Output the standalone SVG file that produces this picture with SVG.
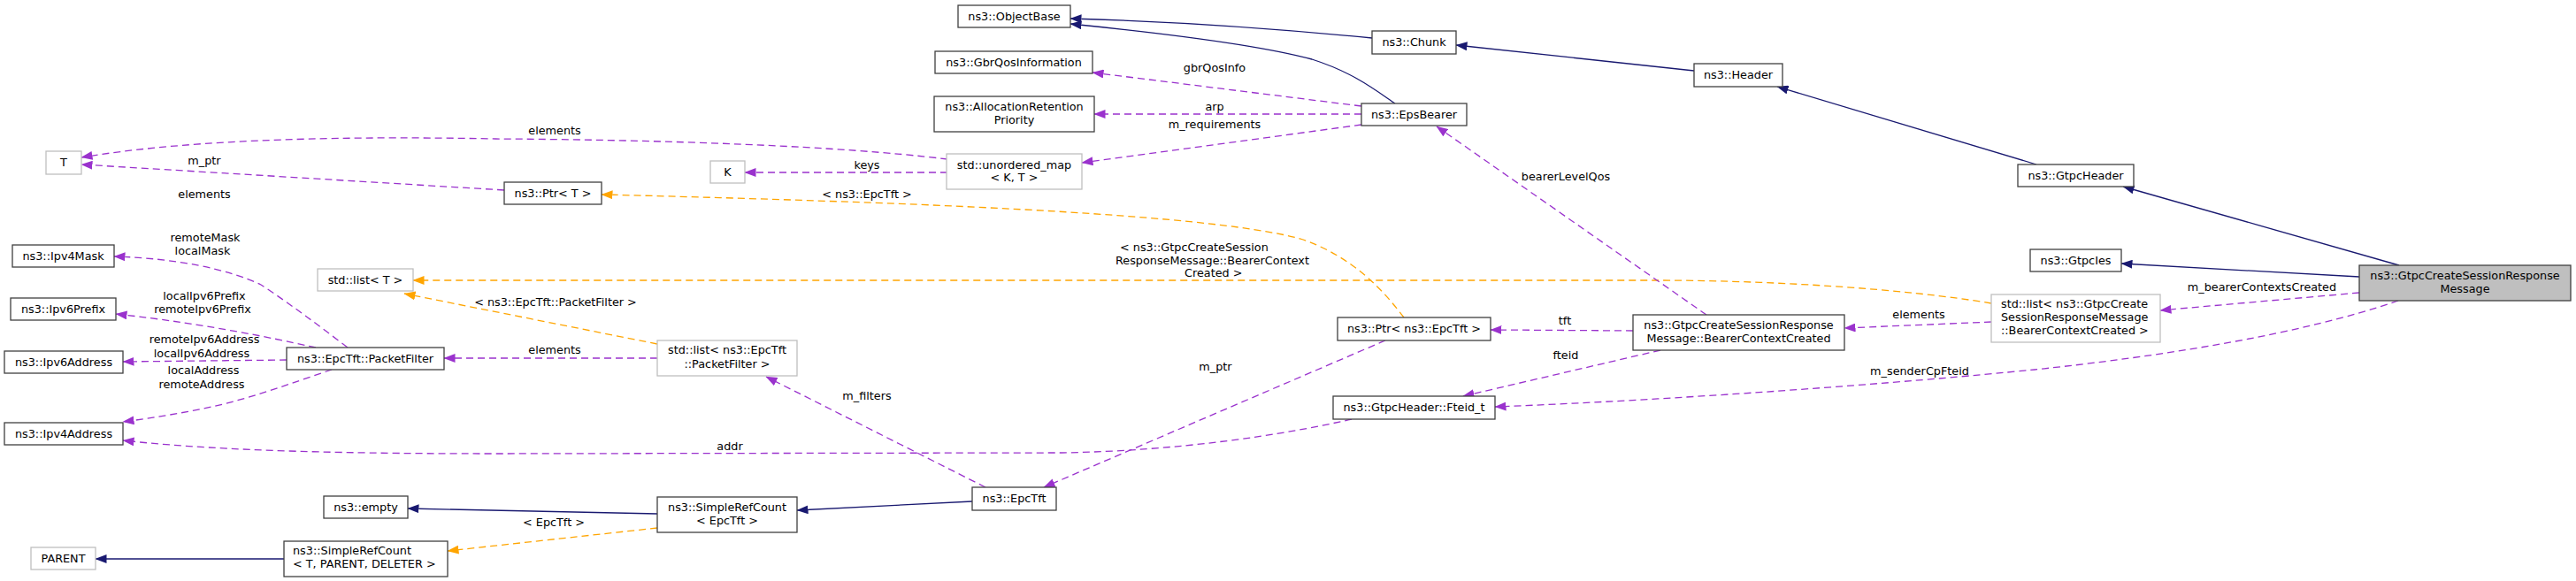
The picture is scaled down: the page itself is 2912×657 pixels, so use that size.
<svg xmlns="http://www.w3.org/2000/svg" width="2912" height="657" viewBox="0 0 2912 657">
<style>
text{font-family:"DejaVu Sans","Liberation Sans",sans-serif;font-size:12.8px;fill:#000}
.c{text-anchor:middle}
.l{text-anchor:start}
rect{stroke-width:1.3}
.n rect{fill:#fff;stroke:#404040}
.g rect{fill:#fff;stroke:#bfbfbf}
.m rect{fill:#bfbfbf;stroke:#404040}
.e path{fill:none;stroke-width:1.3}
.ih{stroke:#191970;marker-end:url(#ab)}
.us{stroke:#9a32cd;stroke-dasharray:8,5;marker-end:url(#ap)}
.tp{stroke:#ffa500;stroke-dasharray:8,5;marker-end:url(#ao)}
</style>
<defs>
<marker id="ab" viewBox="0 0 13 10" refX="12.5" refY="5" markerWidth="13" markerHeight="10" markerUnits="userSpaceOnUse" orient="auto"><path d="M0,0 L13,5 L0,10 z" fill="#191970"/></marker>
<marker id="ap" viewBox="0 0 13 10" refX="12.5" refY="5" markerWidth="13" markerHeight="10" markerUnits="userSpaceOnUse" orient="auto"><path d="M0,0 L13,5 L0,10 z" fill="#9a32cd"/></marker>
<marker id="ao" viewBox="0 0 13 10" refX="12.5" refY="5" markerWidth="13" markerHeight="10" markerUnits="userSpaceOnUse" orient="auto"><path d="M0,0 L13,5 L0,10 z" fill="#ffa500"/></marker>
</defs>
<rect width="2912" height="657" fill="#fff"/>
<g id="edges" class="e">
<path class="ih" d="M1551,43 C1450,33 1320,24 1210,21"/>
<path class="ih" d="M1577,117 C1555,102 1530,82 1483,67 C1420,50 1300,36 1210,27"/>
<path class="ih" d="M1915,80 L1646,51"/>
<path class="ih" d="M2302,186 L2009,98"/>
<path class="ih" d="M2712,300 L2400,211"/>
<path class="ih" d="M2667,313 L2398,298"/>
<path class="us" d="M2667,331 L2442,351"/>
<path class="us" d="M2711,340 C2600,378 2450,402 2300,418 C2150,433 1900,452 1690,460"/>
<path class="us" d="M2251,364 L2085,371"/>
<path class="tp" d="M2251,343 C2150,326 2000,317 1870,317 L467,317"/>
<path class="us" d="M1929,356 L1624,143"/>
<path class="us" d="M1846,374 L1685,373"/>
<path class="us" d="M1877,396 L1654,448"/>
<path class="tp" d="M1587,359 C1565,330 1530,290 1470,270 C1360,240 1000,228 680,220"/>
<path class="us" d="M1566,385 L1180,551"/>
<path class="us" d="M1114,551 L866,426"/>
<path class="ih" d="M1099,567 L901,577"/>
<path class="ih" d="M743,581 L461,575"/>
<path class="tp" d="M743,597 L506,623"/>
<path class="ih" d="M321,632 L108,632"/>
<path class="us" d="M1528,474 C1450,492 1330,510 1200,512 L560,513 C350,513 230,508 139,498"/>
<path class="us" d="M393,393 C360,368 330,345 295,322 C260,305 200,292 129,290"/>
<path class="us" d="M357,393 C320,385 240,367 131,355"/>
<path class="us" d="M324,407 L139,409"/>
<path class="us" d="M375,418 C330,433 280,452 230,462 C200,468 170,473 139,477"/>
<path class="us" d="M743,405 L502,405"/>
<path class="tp" d="M743,389 L457,332"/>
<path class="us" d="M1071,180 C950,165 750,158 560,157 C350,153 200,160 92,178"/>
<path class="us" d="M1071,195 L842,195"/>
<path class="us" d="M570,215 L92,186"/>
<path class="us" d="M1539,120 L1235,82"/>
<path class="us" d="M1539,129 L1237,129"/>
<path class="us" d="M1539,141 L1223,184"/>
</g>
<g id="edge-labels">
<text class="c" x="1373" y="81">gbrQosInfo</text>
<text class="c" x="1373" y="125">arp</text>
<text class="c" x="1373" y="145">m_requirements</text>
<text class="c" x="627" y="152">elements</text>
<text class="c" x="980" y="191">keys</text>
<text class="c" x="231" y="186">m_ptr</text>
<text class="c" x="980" y="224">&lt; ns3::EpcTft &gt;</text>
<text class="c" x="231" y="224">elements</text>
<text class="c" x="232" y="273">remoteMask</text>
<text class="c" x="229" y="288">localMask</text>
<text class="l" x="1266" y="284">&lt; ns3::GtpcCreateSession</text>
<text class="l" x="1261" y="299">ResponseMessage::BearerContext</text>
<text class="l" x="1339" y="313">Created &gt;</text>
<text class="c" x="231" y="339">localIpv6Prefix</text>
<text class="c" x="229" y="354">remoteIpv6Prefix</text>
<text class="c" x="628" y="346">&lt; ns3::EpcTft::PacketFilter &gt;</text>
<text class="c" x="231" y="388">remoteIpv6Address</text>
<text class="c" x="228" y="404">localIpv6Address</text>
<text class="c" x="627" y="400">elements</text>
<text class="c" x="230" y="423">localAddress</text>
<text class="c" x="228" y="439">remoteAddress</text>
<text class="c" x="980" y="452">m_filters</text>
<text class="c" x="825" y="509">addr</text>
<text class="c" x="626" y="595">&lt; EpcTft &gt;</text>
<text class="c" x="1770" y="204">bearerLevelQos</text>
<text class="c" x="1769" y="367">tft</text>
<text class="c" x="1770" y="406">fteid</text>
<text class="c" x="1374" y="419">m_ptr</text>
<text class="c" x="2169" y="360">elements</text>
<text class="c" x="2170" y="424">m_senderCpFteid</text>
<text class="c" x="2557" y="329">m_bearerContextsCreated</text>
</g>
<g id="n-main" class="m"><rect x="2667" y="300" width="239" height="40"/><text class="c" x="2786.5" y="316">ns3::GtpcCreateSessionResponse</text><text class="c" x="2786.5" y="331">Message</text></g>
<g id="n-objectbase" class="n"><rect x="1083" y="6" width="127" height="25"/><text class="c" x="1146.5" y="22.5">ns3::ObjectBase</text></g>
<g id="n-chunk" class="n"><rect x="1551" y="35" width="95" height="26"/><text class="c" x="1598.5" y="52">ns3::Chunk</text></g>
<g id="n-header" class="n"><rect x="1915" y="72" width="100" height="26"/><text class="c" x="1965" y="89">ns3::Header</text></g>
<g id="n-gtpcheader" class="n"><rect x="2281" y="186" width="131" height="25"/><text class="c" x="2346.5" y="202.5">ns3::GtpcHeader</text></g>
<g id="n-gtpcies" class="n"><rect x="2295" y="282" width="103" height="25"/><text class="c" x="2346.5" y="298.5">ns3::GtpcIes</text></g>
<g id="n-gbrqos" class="n"><rect x="1057" y="58" width="178" height="25"/><text class="c" x="1146" y="74.5">ns3::GbrQosInformation</text></g>
<g id="n-arp" class="n"><rect x="1056" y="109" width="181" height="40"/><text class="c" x="1146.5" y="125">ns3::AllocationRetention</text><text class="c" x="1146.5" y="140">Priority</text></g>
<g id="n-epsbearer" class="n"><rect x="1539" y="117" width="119" height="25"/><text class="c" x="1598.5" y="133.5">ns3::EpsBearer</text></g>
<g id="n-umap" class="g"><rect x="1070" y="174" width="153" height="40"/><text class="c" x="1146.5" y="191">std::unordered_map</text><text class="c" x="1146.5" y="205">&lt; K, T &gt;</text></g>
<g id="n-k" class="g"><rect x="803" y="182" width="39" height="25"/><text class="c" x="822.5" y="198.5">K</text></g>
<g id="n-t" class="g"><rect x="52" y="171" width="40" height="26"/><text class="c" x="72" y="188">T</text></g>
<g id="n-ptrt" class="n"><rect x="570" y="206" width="110" height="25"/><text class="c" x="625" y="222.5">ns3::Ptr&lt; T &gt;</text></g>
<g id="n-listt" class="g"><rect x="359" y="304" width="108" height="25"/><text class="c" x="413" y="320.5">std::list&lt; T &gt;</text></g>
<g id="n-ipv4mask" class="n"><rect x="14" y="277" width="115" height="25"/><text class="c" x="71.5" y="293.5">ns3::Ipv4Mask</text></g>
<g id="n-ipv6prefix" class="n"><rect x="12" y="337" width="119" height="25"/><text class="c" x="71.5" y="353.5">ns3::Ipv6Prefix</text></g>
<g id="n-ipv6address" class="n"><rect x="5" y="397" width="134" height="25"/><text class="c" x="72" y="413.5">ns3::Ipv6Address</text></g>
<g id="n-ipv4address" class="n"><rect x="5" y="478" width="134" height="25"/><text class="c" x="72" y="494.5">ns3::Ipv4Address</text></g>
<g id="n-packetfilter" class="n"><rect x="324" y="393" width="178" height="25"/><text class="c" x="413" y="409.5">ns3::EpcTft::PacketFilter</text></g>
<g id="n-listpf" class="g"><rect x="743" y="385" width="158" height="40"/><text class="c" x="822" y="400">std::list&lt; ns3::EpcTft</text><text class="c" x="822" y="415.5">::PacketFilter &gt;</text></g>
<g id="n-ptrepctft" class="n"><rect x="1512" y="359" width="173" height="26"/><text class="c" x="1598.5" y="376">ns3::Ptr&lt; ns3::EpcTft &gt;</text></g>
<g id="n-bcc" class="n"><rect x="1846" y="356" width="239" height="40"/><text class="c" x="1965.5" y="372">ns3::GtpcCreateSessionResponse</text><text class="c" x="1965.5" y="387">Message::BearerContextCreated</text></g>
<g id="n-fteid" class="n"><rect x="1507" y="448" width="183" height="26"/><text class="c" x="1598.5" y="465">ns3::GtpcHeader::Fteid_t</text></g>
<g id="n-listbcc" class="g"><rect x="2251" y="333" width="191" height="54"/><text class="l" x="2262" y="348">std::list&lt; ns3::GtpcCreate</text><text class="l" x="2262" y="363">SessionResponseMessage</text><text class="l" x="2262" y="378">::BearerContextCreated &gt;</text></g>
<g id="n-epctft" class="n"><rect x="1099" y="551" width="95" height="26"/><text class="c" x="1146.5" y="568">ns3::EpcTft</text></g>
<g id="n-empty" class="n"><rect x="366" y="561" width="95" height="25"/><text class="c" x="413.5" y="577.5">ns3::empty</text></g>
<g id="n-srcepctft" class="n"><rect x="743" y="562" width="158" height="40"/><text class="c" x="822" y="578">ns3::SimpleRefCount</text><text class="c" x="822" y="593">&lt; EpcTft &gt;</text></g>
<g id="n-srct" class="n"><rect x="321" y="612" width="185" height="40"/><text class="l" x="331" y="627">ns3::SimpleRefCount</text><text class="l" x="331" y="642">&lt; T, PARENT, DELETER &gt;</text></g>
<g id="n-parent" class="g"><rect x="35" y="619" width="73" height="25"/><text class="c" x="71.5" y="635.5">PARENT</text></g>
</svg>
